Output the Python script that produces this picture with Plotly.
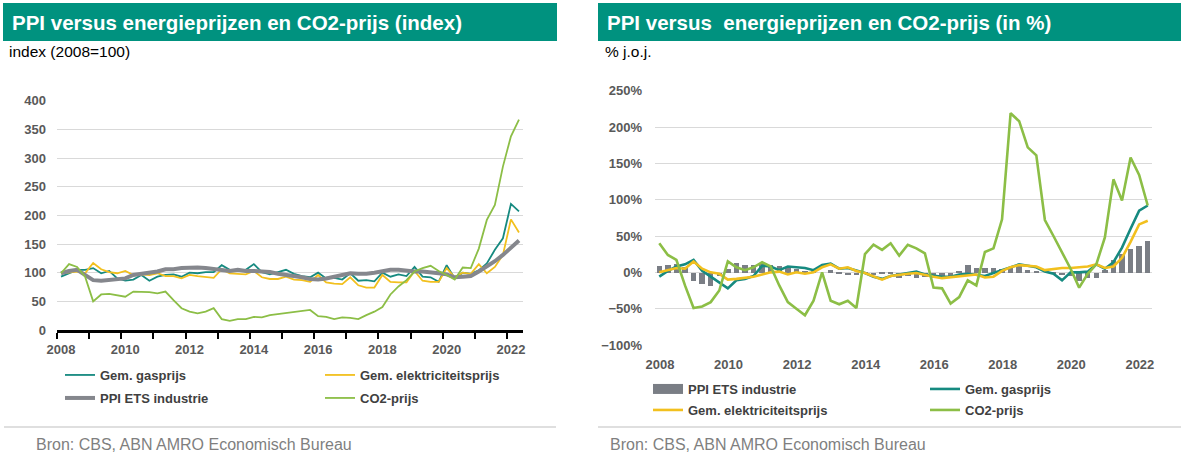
import plotly.graph_objects as go

W, H = 1188, 462

# ---------------- data (quarterly, 2008Q1 - 2022Q2) ----------------
quarters = [f"{y}Q{q}" for y in range(2008, 2023) for q in range(1, 5)][:58]

# index (2008=100)
gas_idx = [93, 99, 105, 105, 108, 99, 103, 90, 86, 88, 96, 86, 93, 96, 97, 93,
           100, 99, 101, 101, 113, 105, 103, 105, 115, 101, 97, 101, 105, 98, 94, 92,
           100, 90, 91, 88, 99, 86, 87, 85, 100, 93, 97, 94, 110, 93, 92, 84,
           113, 90, 100, 98, 104, 116, 140, 160, 220, 207]
elec_idx = [99, 100, 102, 99, 117, 106, 101, 99, 103, 96, 97, 96, 99, 94, 94, 90,
            96, 94, 92, 91, 106, 99, 98, 97, 103, 92, 89, 89, 93, 88, 87, 84,
            96, 83, 81, 80, 92, 78, 74, 74, 96, 84, 83, 83, 103, 86, 84, 84,
            108, 92, 100, 98, 115, 99, 110, 131, 193, 170]
ppi_idx = [99, 103, 105, 96, 87, 86, 87, 88, 90, 96, 98, 99, 102, 106, 106, 108,
           109, 109, 108, 106, 105, 103, 105, 103, 103, 102, 101, 98, 96, 95, 92, 89,
           88, 90, 93, 96, 99, 98, 98, 100, 103, 105, 105, 103, 102, 102, 101, 99,
           97, 92, 93, 94, 102, 110, 120, 131, 143, 156]
co2_idx = [99, 115, 110, 93, 50, 62, 63, 61, 58, 67, 67, 66, 64, 67, 52, 38,
           32, 29, 32, 38, 19, 16, 19, 19, 23, 22, 26, 28, 30, 32, 34, 35,
           24, 23, 19, 22, 21, 19, 26, 32, 40, 62, 76, 87, 102, 108, 112, 103,
           96, 88, 109, 108, 142, 192, 218, 285, 338, 367]

# % year-on-year
ppi_pct = [9, 11, 12, 8, -11, -16, -18, -5, 5, 13, 11, 10, 13, 10, 9, 7,
           5, 2, 1, 0, 3, -1, -3, -3, -2, -3, -1, -2, -7, -5, -8, -6,
           -7, -6, -5, 1, 11, 7, 6, 6, 5, 6, 11, 4, 2, 0, -1, -3,
           -5, -11, -8, -7, 3, 18, 25, 32, 36, 44]
gas_pct = [-6, 2, 8, 11, 17, 2, -6, -14, -22, -11, -9, -5, 9, 8, 3, 8,
           7, 6, 3, 10, 12, 5, 6, 3, -1, -6, -9, -5, -3, 0, 1, -3,
           -5, -6, -6, -3, -2, -3, -5, -1, 3, 8, 11, 9, 7, 1, -2, -11,
           0, 0, 1, 11, 5, 14, 34, 60, 85, 92]
elec_pct = [0, 3, 6, 5, 15, 5, 0, -2, -10, -9, -8, -6, -3, 0, 1, -3,
            0, -2, 0, 7, 11, 5, 7, 2, -1, -5, -10, -5, -3, -2, -1, -4,
            -6, -8, -7, -6, -5, -3, -7, -6, 2, 7, 10, 9, 8, 3, 5, 6,
            6, 7, 8, 11, 6, 8, 20, 42, 66, 71]
co2_pct = [40, 24, 17, -18, -49, -47, -41, -25, 15, 7, 3, 7, 14, 8, -18, -41,
           -50, -59, -39, 0, -39, -44, -39, -49, 25, 38, 31, 40, 23, 38, 33, 26,
           -21, -22, -43, -34, -11, -18, 28, 33, 73, 219, 208, 172, 161, 72, 50, 28,
           5, -21, -2, 11, 48, 128, 99, 158, 134, 92]

x_tick_years = [2008, 2010, 2012, 2014, 2016, 2018, 2020, 2022]
x_tick_labels = [str(y) for y in x_tick_years]

names = {
    "gas": "Gem. gasprijs",
    "elec": "Gem. elektriciteitsprijs",
    "ppi": "PPI ETS industrie",
    "co2": "CO2-prijs",
}

# quarter label -> position on a numeric year axis (middle of the quarter)
def qpos(label):
    return int(label[:4]) + (int(label[-1]) - 0.5) / 4

xq = [qpos(q) for q in quarters]

# ---------------- styling ----------------
FONT = "Liberation Sans, Arial, sans-serif"
TEAL_BAR = "#00927f"
C_GAS = "#168a80"
C_ELEC = "#f2c01e"
C_CO2 = "#8cbe46"
C_PPI = "#85878d"
C_BAR = "#7a7e85"
TICK_COL = "#595959"
LEG_COL = "#404040"
GRID = "#d9d9d9"

L_X = [57 / W, 523 / W]
L_Y = [(H - 330) / H, (H - 100.7) / H]
R_X = [655 / W, 1152 / W]
R_Y = [(H - 345) / H, (H - 90.7) / H]
R_RANGE = [-100, 250]
zero_pos = R_Y[0] + (0 - R_RANGE[0]) / (R_RANGE[1] - R_RANGE[0]) * (R_Y[1] - R_Y[0])

fig = go.Figure()

# ----- left chart -----
fig.add_trace(go.Scatter(x=xq, y=gas_idx, name=names["gas"], mode="lines",
                         line=dict(color=C_GAS, width=1.8), legend="legend",
                         xaxis="x", yaxis="y"))
fig.add_trace(go.Scatter(x=xq, y=elec_idx, name=names["elec"], mode="lines",
                         line=dict(color=C_ELEC, width=1.8), legend="legend2",
                         xaxis="x", yaxis="y"))
fig.add_trace(go.Scatter(x=xq, y=ppi_idx, name=names["ppi"], mode="lines",
                         line=dict(color=C_PPI, width=4), legend="legend3",
                         xaxis="x", yaxis="y"))
fig.add_trace(go.Scatter(x=xq, y=co2_idx, name=names["co2"], mode="lines",
                         line=dict(color=C_CO2, width=1.8), legend="legend4",
                         xaxis="x", yaxis="y"))

# ----- right chart -----
fig.add_trace(go.Bar(x=xq, y=ppi_pct, name=names["ppi"], width=0.16,
                     marker=dict(color=C_BAR, line=dict(width=0)), showlegend=False,
                     xaxis="x2", yaxis="y2"))
fig.add_trace(go.Scatter(x=[None], y=[None], name=names["ppi"], mode="lines",
                         line=dict(color=C_BAR, width=10), legend="legend5",
                         xaxis="x2", yaxis="y2"))
fig.add_trace(go.Scatter(x=xq, y=gas_pct, name=names["gas"], mode="lines",
                         line=dict(color=C_GAS, width=2.6), legend="legend6",
                         xaxis="x2", yaxis="y2"))
fig.add_trace(go.Scatter(x=xq, y=elec_pct, name=names["elec"], mode="lines",
                         line=dict(color=C_ELEC, width=2.6), legend="legend7",
                         xaxis="x2", yaxis="y2"))
fig.add_trace(go.Scatter(x=xq, y=co2_pct, name=names["co2"], mode="lines",
                         line=dict(color=C_CO2, width=2.6), legend="legend8",
                         xaxis="x2", yaxis="y2"))

tickfont = dict(family=FONT, size=13, color=TICK_COL, weight="bold")

fig.update_layout(
    template="none",
    width=W, height=H, autosize=False,
    margin=dict(l=0, r=0, t=0, b=0, pad=0, autoexpand=False),
    paper_bgcolor="white", plot_bgcolor="white",
    font=dict(family=FONT),
    bargap=0,
    xaxis=dict(domain=L_X, anchor="y", range=[2008, 2022.5], automargin=False,
               tickmode="array", tickvals=x_tick_years, ticktext=x_tick_labels,
               ticks="outside", ticklen=6, tickwidth=1.5, tickcolor="black",
               minor=dict(tickmode="linear", tick0=2008, dtick=1, ticks="outside",
                          ticklen=6, tickwidth=1.5, tickcolor="black", showgrid=False),
               showline=True, linecolor="black", linewidth=2.5,
               showgrid=False, zeroline=False, tickfont=tickfont,
               ticklabelshift=4),
    yaxis=dict(domain=L_Y, anchor="x", range=[0, 400], dtick=50, tick0=0,
               automargin=False,
               showgrid=True, gridcolor=GRID, gridwidth=1, zeroline=False,
               showline=False, ticks="", tickfont=tickfont, ticklabelstandoff=10),
    xaxis2=dict(domain=R_X, anchor="y2", range=[2008, 2022.5], automargin=False,
                tickmode="array", tickvals=x_tick_years, ticktext=x_tick_labels,
                ticks="", showline=False, showgrid=False, zeroline=False,
                tickfont=tickfont, ticklabelstandoff=10, ticklabelshift=5),
    xaxis3=dict(overlaying="x2", anchor="free", position=zero_pos, automargin=False,
                range=[2008, 2022.5], tickmode="linear", tick0=2008, dtick=1,
                ticks="outside", ticklen=5, tickwidth=1.5, tickcolor="black",
                showline=True, linecolor="black", linewidth=2.5,
                showticklabels=False, showgrid=False, zeroline=False),
    yaxis2=dict(domain=R_Y, anchor="x2", range=R_RANGE, dtick=50, tick0=0,
                automargin=False,
                ticksuffix="%", showgrid=True, gridcolor=GRID, gridwidth=1,
                zeroline=False, showline=False, ticks="", tickfont=tickfont,
                ticklabelstandoff=12),
)

# legends: one entry each, placed in two columns per chart
def leg(x_px, y_px):
    return dict(x=x_px / W, y=1 - y_px / H, xanchor="left", yanchor="middle",
                orientation="v", bgcolor="rgba(0,0,0,0)", borderwidth=0,
                itemwidth=30, tracegroupgap=0,
                font=dict(family=FONT, size=13, color=LEG_COL, weight="bold"))

fig.update_layout(
    legend=leg(60, 375), legend3=leg(60, 398),
    legend2=leg(320, 375), legend4=leg(320, 398),
    legend5=leg(648, 389), legend7=leg(648, 410),
    legend6=leg(925, 389), legend8=leg(925, 410),
)

# title bars, subtitles, separators, sources
shapes = [
    dict(type="rect", xref="paper", yref="paper", x0=3 / W, x1=557 / W,
         y0=1 - 41 / H, y1=1 - 3 / H, fillcolor=TEAL_BAR, line=dict(width=0), layer="below"),
    dict(type="rect", xref="paper", yref="paper", x0=598 / W, x1=1181 / W,
         y0=1 - 41 / H, y1=1 - 3 / H, fillcolor=TEAL_BAR, line=dict(width=0), layer="below"),
    dict(type="line", xref="paper", yref="paper", x0=4 / W, x1=556 / W,
         y0=1 - 427 / H, y1=1 - 427 / H, line=dict(color="#bfbfbf", width=1)),
    dict(type="line", xref="paper", yref="paper", x0=598 / W, x1=1181 / W,
         y0=1 - 427 / H, y1=1 - 427 / H, line=dict(color="#bfbfbf", width=1)),
]
fig.update_layout(shapes=shapes)

def txt(text, x_px, y_px, size, color, weight="normal"):
    return dict(text=text, x=x_px / W, y=1 - y_px / H, xref="paper", yref="paper",
                xanchor="left", yanchor="middle", showarrow=False,
                font=dict(family=FONT, size=size, color=color, weight=weight))

fig.update_layout(annotations=[
    txt("PPI versus energieprijzen en CO2-prijs (index)", 10, 22, 20.5, "white", "bold"),
    txt("PPI versus\u00a0 energieprijzen en CO2-prijs (in %)", 605, 22, 20.5, "white", "bold"),
    txt("index (2008=100)", 7, 52, 15.5, "black"),
    txt("% j.o.j.", 603, 52, 15.5, "black"),
    txt("Bron: CBS, ABN AMRO Economisch Bureau", 34, 444, 16, "#7f7f7f"),
    txt("Bron: CBS, ABN AMRO Economisch Bureau", 608, 444, 16, "#7f7f7f"),
])

fig.write_html("out.html", config={"displayModeBar": False},
               post_script="document.body.style.margin='0px';document.body.style.overflow='hidden';")
